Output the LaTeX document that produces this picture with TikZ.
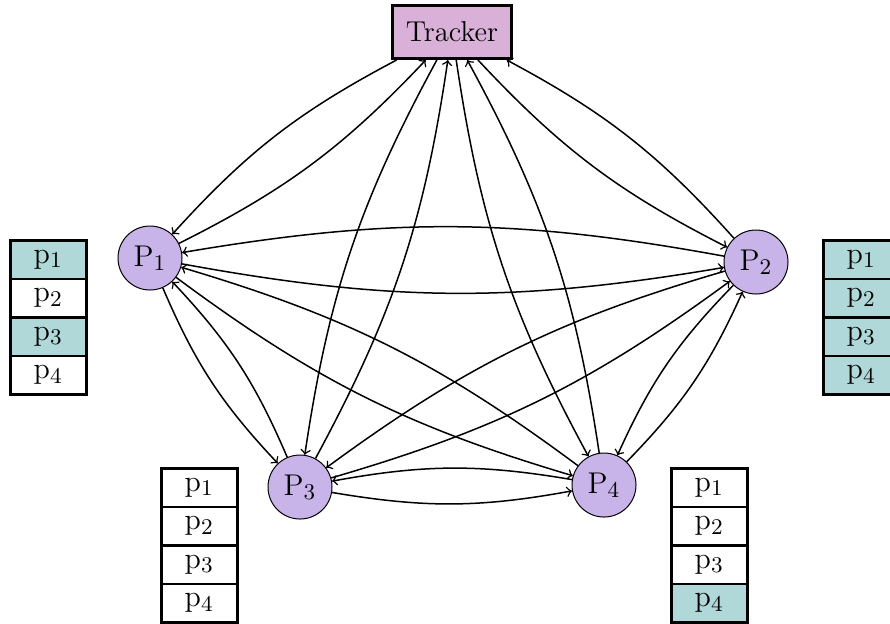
\documentclass[tikz,border=0pt]{standalone}
\usetikzlibrary{arrows}
\definecolor{trk}{RGB}{216,176,216}
\definecolor{peerc}{RGB}{200,180,232}
\definecolor{have}{RGB}{176,216,216}
\begin{document}
\begin{tikzpicture}[x=0.4pt,y=-0.4pt,>=to,font=\fontsize{11.5}{13}\selectfont,
  tracker/.style={draw,very thick,fill=trk,minimum width=47.6pt,minimum height=21.2pt,inner sep=0pt},
  peer/.style={circle,draw,fill=peerc,minimum size=25.6pt,inner sep=0pt,font=\fontsize{13}{15}\selectfont},
  cell/.style={draw,line width=1pt,minimum width=30.4pt,minimum height=15.4pt,inner sep=0pt,anchor=north west,font=\fontsize{13}{15}\selectfont},
  hv/.style={cell,fill=have},
  nh/.style={cell,fill=white},
  link/.style={->,semithick}]
\useasboundingbox (0,0) rectangle (890,623);
\clip (0,0) rectangle (890,623);
\node[tracker] (T) at (452,32) {Tracker};
\node[peer] (P1) at (150,258) {$\mathrm{P}_1$};
\node[peer] (P2) at (756,262) {$\mathrm{P}_2$};
\node[peer] (P3) at (300,487) {$\mathrm{P}_3$};
\node[peer] (P4) at (604,485) {$\mathrm{P}_4$};
\foreach \a/\b in {T/P1,T/P2,T/P3,T/P4,P1/P2,P1/P3,P1/P4,P2/P3,P2/P4,P3/P4}{
  \draw[link] (\a) to[bend right=10] (\b);
  \draw[link] (\b) to[bend right=10] (\a);
}
% left table (P1)
\node[hv] (a1) at (9,239) {$\mathrm{p}_1$};
\node[nh] (a2) at (9,277.5) {$\mathrm{p}_2$};
\node[hv] (a3) at (9,316) {$\mathrm{p}_3$};
\node[nh] (a4) at (9,354.5) {$\mathrm{p}_4$};
% right table (P2)
\node[hv] (b1) at (822,239) {$\mathrm{p}_1$};
\node[hv] (b2) at (822,277.5) {$\mathrm{p}_2$};
\node[hv] (b3) at (822,316) {$\mathrm{p}_3$};
\node[hv] (b4) at (822,354.5) {$\mathrm{p}_4$};
% bottom-left table (P3)
\node[nh] (c1) at (160,467) {$\mathrm{p}_1$};
\node[nh] (c2) at (160,505.5) {$\mathrm{p}_2$};
\node[nh] (c3) at (160,544) {$\mathrm{p}_3$};
\node[nh] (c4) at (160,582.5) {$\mathrm{p}_4$};
% bottom-right table (P4)
\node[nh] (d1) at (670,467) {$\mathrm{p}_1$};
\node[nh] (d2) at (670,505.5) {$\mathrm{p}_2$};
\node[nh] (d3) at (670,544) {$\mathrm{p}_3$};
\node[hv] (d4) at (670,582.5) {$\mathrm{p}_4$};
\end{tikzpicture}
\end{document}
